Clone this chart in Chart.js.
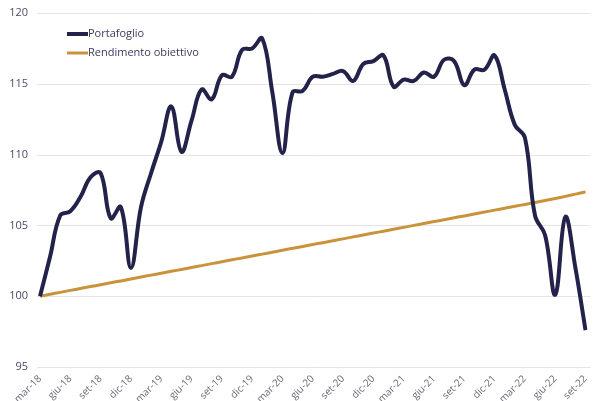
<!DOCTYPE html>
<html>
<head>
<meta charset="utf-8">
<script src="https://cdn.jsdelivr.net/npm/chart.js@4.4.0/dist/chart.umd.min.js"></script>
<style>
  body { margin: 0; background: #fff; }
  #wrap { width: 600px; height: 401px; }
</style>
</head>
<body>
<div id="wrap"><canvas id="grafico"></canvas></div>
<script>
// mesi da mar-18 a set-22
const mesi = ['mar-18','apr-18','mag-18','giu-18','lug-18','ago-18','set-18','ott-18','nov-18','dic-18',
  'gen-19','feb-19','mar-19','apr-19','mag-19','giu-19','lug-19','ago-19','set-19','ott-19','nov-19','dic-19',
  'gen-20','feb-20','mar-20','apr-20','mag-20','giu-20','lug-20','ago-20','set-20','ott-20','nov-20','dic-20',
  'gen-21','feb-21','mar-21','apr-21','mag-21','giu-21','lug-21','ago-21','set-21','ott-21','nov-21','dic-21',
  'gen-22','feb-22','mar-22','apr-22','mag-22','giu-22','lug-22','ago-22','set-22'];

const portafoglio = [100.0, 102.8, 105.7, 106.0, 107.0, 108.4, 108.7, 105.5, 106.3, 102.0,
  106.3, 108.7, 110.9, 113.4, 110.2, 112.4, 114.6, 113.9, 115.6, 115.5, 117.4, 117.5,
  118.2, 114.4, 110.1, 114.4, 114.5, 115.5, 115.5, 115.7, 115.9, 115.2, 116.4, 116.6,
  117.0, 114.8, 115.3, 115.2, 115.8, 115.5, 116.7, 116.6, 114.9, 116.0, 116.0, 117.0,
  114.6, 112.1, 111.2, 105.7, 104.3, 100.1, 105.6, 102.0, 97.6];

const obiettivo = [100.00, 100.14, 100.27, 100.41, 100.54, 100.68, 100.81, 100.95, 101.08, 101.22,
  101.35, 101.49, 101.62, 101.76, 101.89, 102.03, 102.16, 102.30, 102.43, 102.57, 102.70, 102.84,
  102.97, 103.11, 103.24, 103.38, 103.51, 103.65, 103.78, 103.92, 104.05, 104.19, 104.32, 104.46,
  104.59, 104.73, 104.86, 105.00, 105.13, 105.27, 105.40, 105.54, 105.67, 105.81, 105.94, 106.08,
  106.21, 106.35, 106.48, 106.62, 106.76, 106.90, 107.05, 107.21, 107.37];

const tickY = [95, 100, 105, 110, 115, 120];

// legenda dentro il grafico, in alto a sinistra
const legendaInterna = {
  id: 'legendaInterna',
  afterDraw(chart) {
    const ctx = chart.ctx;
    ctx.save();
    chart.data.datasets.forEach((ds, i) => {
      const y = 34 + i * 19;
      ctx.strokeStyle = ds.borderColor;
      ctx.lineWidth = ds.borderWidth;
      ctx.beginPath();
      ctx.moveTo(67, y);
      ctx.lineTo(88, y);
      ctx.stroke();
      ctx.fillStyle = '#3b3a60';
      ctx.font = '11px "Open Sans"';
      ctx.textBaseline = 'middle';
      ctx.fillText(ds.label, 88, y);
    });
    ctx.restore();
  }
};

// le linee di griglia escono un po' dall'area del grafico
const grigliaLarga = {
  id: 'grigliaLarga',
  beforeDatasetsDraw(chart) {
    const { ctx, chartArea, scales } = chart;
    ctx.save();
    ctx.strokeStyle = '#e4e4e4';
    ctx.lineWidth = 1;
    tickY.forEach(v => {
      const y = Math.round(scales.y.getPixelForValue(v)) + 0.5;
      ctx.beginPath();
      ctx.moveTo(chartArea.left - 3, y);
      ctx.lineTo(chartArea.right + 5, y);
      ctx.stroke();
    });
    ctx.restore();
  }
};

const ctx = document.getElementById('grafico').getContext('2d');
new Chart(ctx, {
  type: 'line',
  data: {
    labels: mesi,
    datasets: [{
      label: 'Portafoglio',
      data: portafoglio,
      borderColor: '#22224a',
      borderWidth: 4,
      pointRadius: 0,
      tension: 0.4,
      fill: false
    }, {
      label: 'Rendimento obiettivo',
      data: obiettivo,
      borderColor: '#c9933c',
      borderWidth: 3,
      pointRadius: 0,
      tension: 0.4,
      fill: false
    }]
  },
  options: {
    responsive: true,
    maintainAspectRatio: false,
    animation: false,
    layout: { padding: { top: 13, right: 12, left: 0, bottom: 0 } },
    plugins: {
      legend: { display: false },
      tooltip: { enabled: false }
    },
    scales: {
      x: {
        grid: { display: false, drawTicks: false },
        border: { display: false },
        afterFit: (s) => { s.height = 34; },
        ticks: {
          autoSkip: false,
          maxRotation: 45,
          minRotation: 45,
          color: '#6a6a7a',
          font: { family: 'Open Sans', size: 10 },
          padding: 6,
          callback: function (val, idx) {
            return idx % 3 === 0 ? this.getLabelForValue(val) : '';
          }
        }
      },
      y: {
        min: 95,
        max: 120,
        afterFit: (s) => { s.width = 40; s.paddingTop = 0; s.paddingBottom = 0; },
        afterBuildTicks: (s) => { s.ticks = tickY.map(v => ({ value: v })); },
        border: { display: false },
        grid: { display: false, drawTicks: false },
        ticks: {
          color: '#4a4a68',
          font: { family: 'Open Sans', size: 11 },
          padding: 12
        }
      }
    }
  },
  plugins: [legendaInterna, grigliaLarga]
});
</script>
</body>
</html>
